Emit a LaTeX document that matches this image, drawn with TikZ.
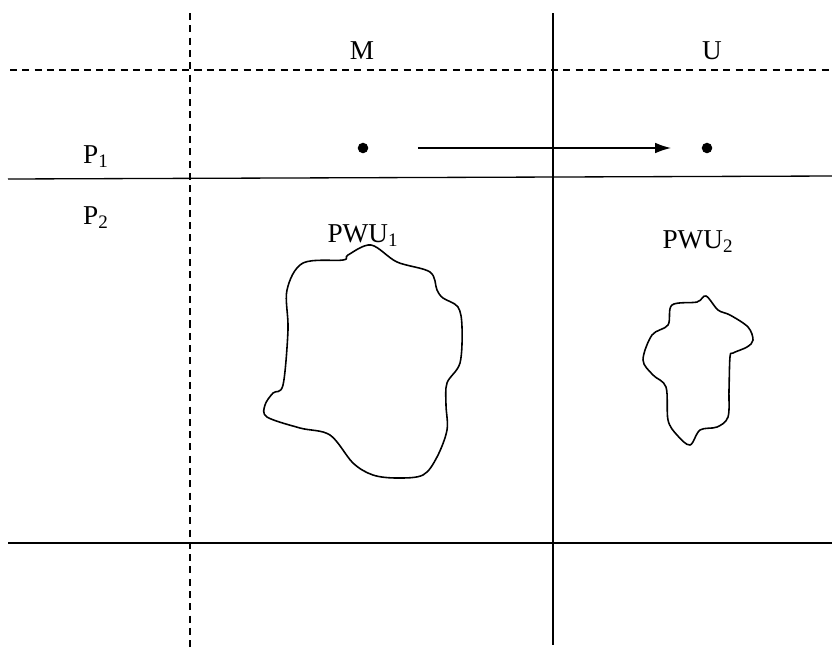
\documentclass[tikz,border=0pt]{standalone}
\usepackage{fontspec}
\setmainfont{Liberation Serif}
\usepackage{tikz}
\usetikzlibrary{arrows.meta}
\tikzstyle{grid}=[line width=0.75pt]
\tikzstyle{dgrid}=[grid,dash pattern=on 4pt off 3pt]
\tikzstyle{lbl}=[font=\fontsize{15.5}{17}\selectfont,inner sep=0pt]
\tikzstyle{dot}=[circle,fill=black,inner sep=0pt,minimum size=6pt]
\tikzstyle{blob}=[line width=0.9pt,smooth cycle,tension=0.55]
\begin{document}
\begin{tikzpicture}[x=0.02cm,y=-0.02cm]
    \useasboundingbox (0,0) rectangle (832,647);
    % grid
    \draw[dgrid] (190,13) -- (190,647);
    \draw[grid] (553,13) -- (553,645);
    \draw[dgrid] (10,70) -- (832,70);
    \draw[grid] (8,179) -- (832,176);
    \draw[grid] (8,543) -- (832,543);
    % labels
    \node[lbl] (m) at (362,51) {M};
    \node[lbl] (u) at (712,51) {U};
    \node[lbl] (p1) at (96,157) {P\textsubscript{1}};
    \node[lbl] (p2) at (96,218) {P\textsubscript{2}};
    \node[lbl] (pwu1) at (363,236) {PWU\textsubscript{1}};
    \node[lbl] (pwu2) at (698,242) {PWU\textsubscript{2}};
    % points
    \node[dot] (d1) at (363,148) {};
    \node[dot] (d2) at (707,148) {};
    \draw[grid,-{Latex[length=9pt,width=6pt]},shorten <=1.1cm,shorten >=0.72cm] (d1.center) -- (d2.center);
    % regions
    \draw[blob] plot coordinates {(371,245) (397,262) (430,272) (437,290) (443,298)
      (458,307) (462,327) (460,363) (447,383) (446,405) (447,430) (437,457) (423,475)
      (397,478) (373,475) (353,463) (330,435) (300,428) (267,417) (265,405) (273,393)
      (283,385) (288,330) (287,290) (303,263) (343,260) (348,255)};
    \draw[blob] plot coordinates {(706,296) (718,310) (730,315) (748,327) (753,340)
      (747,347) (733,353) (730,357) (729,390) (728,417) (717,427) (700,430) (690,445)
      (677,435) (668,420) (666,387) (653,375) (643,360) (652,335) (668,325) (672,305)
      (697,302)};
\end{tikzpicture}
\end{document}
